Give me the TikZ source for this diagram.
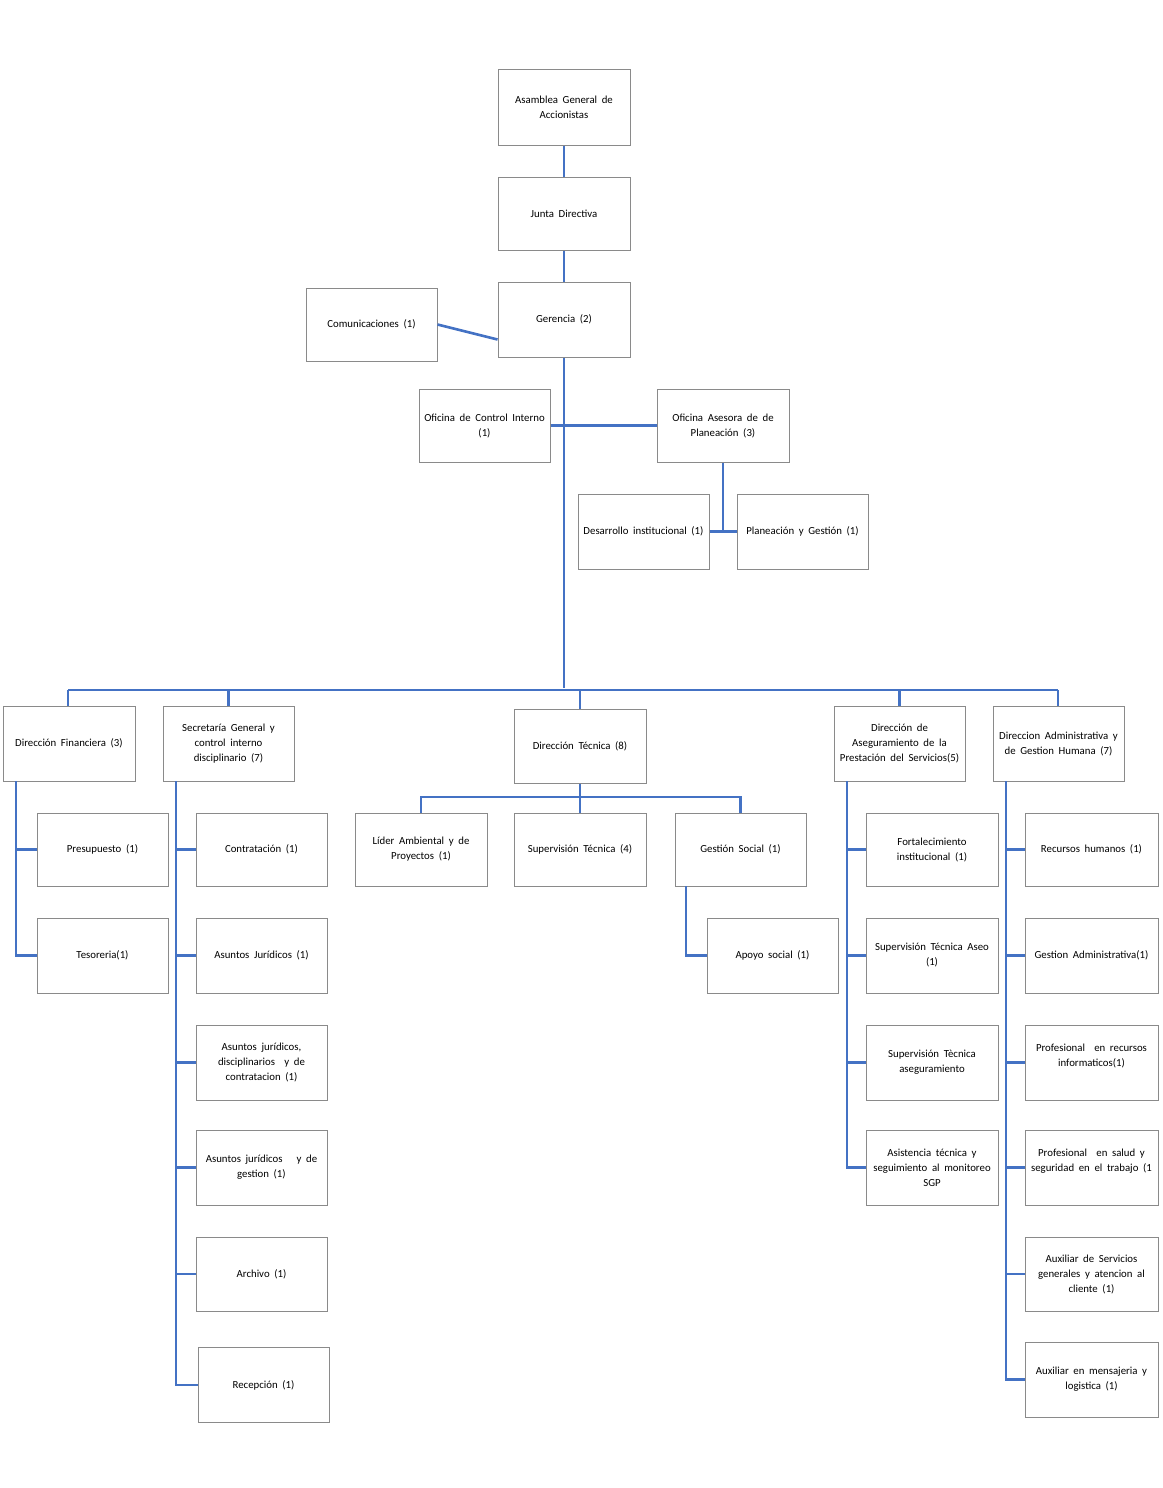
\documentclass[tikz,border=0pt]{standalone}
\usepackage{fontspec}
\setmainfont[WordSpace=1.9]{Carlito}
\begin{document}
\begin{tikzpicture}[x=1pt,y=-1pt,
  box/.style={draw=boxgray,line width=1pt,fill=white,minimum width=132pt,minimum height=75pt,
    align=center,inner sep=1pt,font=\fontsize{10.8}{15}\selectfont},
  link/.style={draw=linkblue,line width=2.6pt}]
\definecolor{boxgray}{HTML}{8A8A8A}
\definecolor{linkblue}{HTML}{4472C4}
\useasboundingbox (0,0) rectangle (1162,1488);
% nodes
\node[box] (asam) at (564,107.5) {Asamblea General de\\Accionistas};
\node[box,minimum height=73pt] (junta) at (564,213.5) {Junta Directiva};
\node[box] (ger) at (564,319.5) {Gerencia (2)};
\node[box,minimum width=131pt,minimum height=73pt] (com) at (371.5,324.5) {Comunicaciones (1)};
\node[box,minimum width=131pt,minimum height=73pt] (oci) at (484.5,425.5) {Oficina de Control Interno\\(1)};
\node[box,minimum height=73pt] (oap) at (723,425.5) {Oficina Asesora de de\\Planeación (3)};
\node[box,minimum width=131pt] (des) at (643.5,531.5) {Desarrollo institucional (1)};
\node[box,minimum width=131pt] (pyg) at (802.5,531.5) {Planeación y Gestión (1)};
% level 2
\node[box] (dfin) at (69,743.5) {Dirección Financiera (3)};
\node[box,minimum width=131pt] (sec) at (228.5,743.5) {Secretaría General y\\control interno\\disciplinario (7)};
\node[box,minimum height=74pt] (dtec) at (580,746) {Dirección Técnica (8)};
\node[box,minimum width=131pt] (dase) at (899.5,743.5) {Dirección de\\Aseguramiento de la\\Prestación del Servicios(5)};
\node[box,minimum width=131pt] (dadm) at (1058.5,743.5) {Direccion Administrativa y\\de Gestion Humana (7)};
% financiera
\node[box,minimum width=131pt,minimum height=73pt] (pres) at (102.5,849.5) {Presupuesto (1)};
\node[box,minimum width=131pt] (teso) at (102.5,955.5) {Tesoreria(1)};
% secretaria
\node[box,minimum width=131pt,minimum height=73pt] (cont) at (261.5,849.5) {Contratación (1)};
\node[box,minimum width=131pt] (ajur) at (261.5,955.5) {Asuntos Jurídicos (1)};
\node[box,minimum width=131pt] (ajdc) at (261.5,1062.5) {Asuntos jurídicos,\\disciplinarios \ y de\\contratacion (1)};
\node[box,minimum width=131pt] (ajg) at (261.5,1167.5) {Asuntos jurídicos \ \ y de\\gestion (1)};
\node[box,minimum width=131pt,minimum height=74pt] (arch) at (261.5,1274) {Archivo (1)};
\node[box,minimum width=131pt] (recep) at (263.5,1385) {Recepción (1)};
% tecnica
\node[box,minimum height=73pt] (lider) at (421,849.5) {Líder Ambiental y de\\Proyectos (1)};
\node[box,minimum height=73pt] (supt) at (580,849.5) {Supervisión Técnica (4)};
\node[box,minimum width=131pt,minimum height=73pt] (gsoc) at (740.5,849.5) {Gestión Social (1)};
\node[box,minimum width=131pt] (apoyo) at (772.5,955.5) {Apoyo social (1)};
% aseguramiento
\node[box,minimum height=73pt] (fort) at (932,849.5) {Fortalecimiento\\institucional (1)};
\node[box] (sta) at (932,955.5) {Supervisión Técnica Aseo\\(1)};
\node[box] (stas) at (932,1062.5) {Supervisión Tècnica\\aseguramiento};
\node[box] (asis) at (932,1167.5) {Asistencia técnica y\\seguimiento al monitoreo\\SGP};
% administrativa
\node[box,minimum width=133pt,minimum height=73pt] (rh) at (1091.5,849.5) {Recursos humanos (1)};
\node[box,minimum width=133pt] (ga) at (1091.5,955.5) {Gestion Administrativa(1)};
\node[box,minimum width=133pt] (pri) at (1091.5,1062.5) {Profesional \ en recursos\\informaticos(1)\\\mbox{}};
\node[box,minimum width=133pt] (psal) at (1091.5,1167.5) {Profesional \ en salud y\\seguridad en el trabajo (1\\\mbox{}};
\node[box,minimum width=133pt,minimum height=74pt] (aux) at (1091.5,1274) {Auxiliar de Servicios\\generales y atencion al\\cliente (1)};
\node[box,minimum width=133pt] (men) at (1091.5,1379.5) {Auxiliar en mensajeria y\\logistica (1)};
% coordinates
\coordinate (bus) at (564,690);
\coordinate (busl) at (68,690);
\coordinate (busr) at (1058,690);
\coordinate (fsp) at (16,781);
\coordinate (ssp) at (176,781);
\coordinate (asp) at (847,781);
\coordinate (dsp) at (1006,781);
\coordinate (tbar) at (580,797);
\coordinate (gsp) at (686,886);
% connectors
\draw[link] (asam) -- (junta);
\draw[link] (junta) -- (ger);
\draw[link] (com.east) -- ([yshift=-20pt]ger.west);
\draw[link] (ger.south) -- ([yshift=2pt]bus);
\draw[link] (oci.east) -- (oap.west);
\draw[link] (oap.south) -- (oap.south |- des.east);
\draw[link] (des.east) -- (pyg.west);
\draw[link] (busl) -- (busr);
\draw[link] (dfin.north -| busl) -- (busl);
\draw[link] (sec.north) -- (sec.north |- busl);
\draw[link] (dtec.north) -- (dtec.north |- busl);
\draw[link] (dase.north) -- (dase.north |- busl);
\draw[link] (dadm.north -| busr) -- (busr);
% financiera
\draw[link] (fsp) |- (teso.west);
\draw[link] (pres.west) -- (pres.west -| fsp);
% secretaria
\draw[link] (ssp) |- (recep.west);
\foreach \n in {cont,ajur,ajdc,ajg,arch} \draw[link] (\n.west) -- (\n.west -| ssp);
% tecnica
\draw[link] (dtec.south) -- (supt.north);
\draw[link] (lider.north) |- (tbar) -| (gsoc.north);
\draw[link] (gsp) |- (apoyo.west);
% aseguramiento
\draw[link] (asp) |- (asis.west);
\foreach \n in {fort,sta,stas} \draw[link] (\n.west) -- (\n.west -| asp);
% administrativa
\draw[link] (dsp) |- (men.west);
\foreach \n in {rh,ga,pri,psal,aux} \draw[link] (\n.west) -- (\n.west -| dsp);
\end{tikzpicture}
\end{document}
